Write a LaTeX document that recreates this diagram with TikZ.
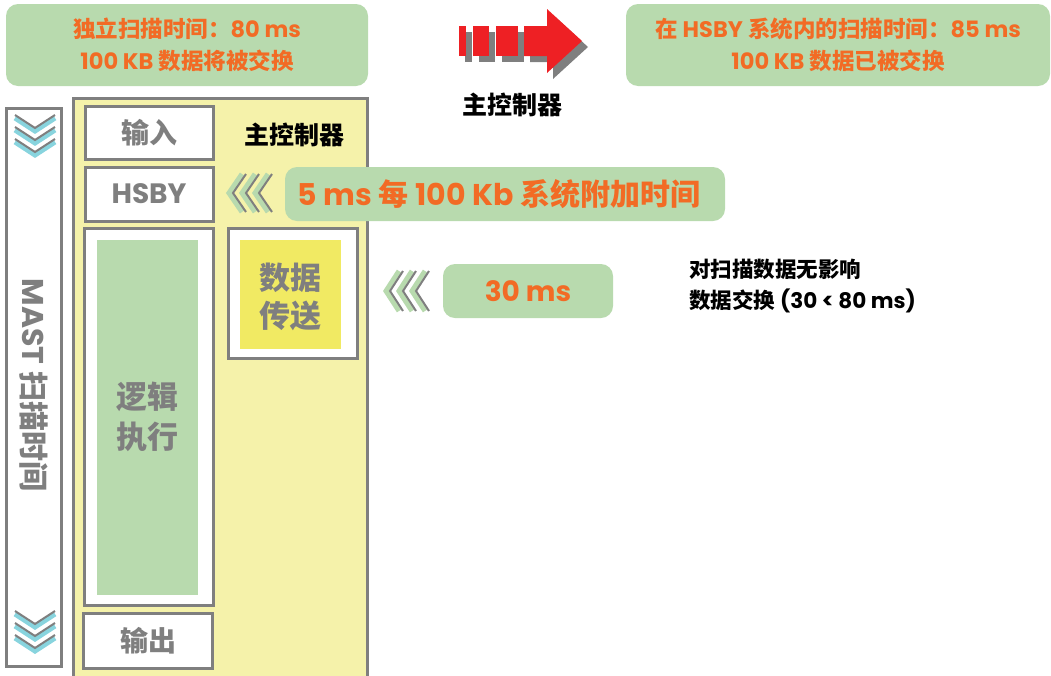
\documentclass[tikz,border=0pt]{standalone}
\usepackage{fontspec}
\setmainfont{Noto Sans CJK SC}
\newfontfamily\latn{Poppins}
\newcommand\LT[1]{{\latn #1}}
\definecolor{greenc}{HTML}{B8DAAE}
\definecolor{orangec}{HTML}{F26B25}
\definecolor{grayc}{HTML}{7F7F7F}
\definecolor{panelc}{HTML}{F5F2AA}
\definecolor{innery}{HTML}{F1EA63}
\definecolor{cyanc}{HTML}{88D4DE}
\definecolor{redc}{HTML}{EE2024}
\newcommand\fs[1]{\fontsize{#1}{#1}\selectfont\bfseries}
\begin{document}
\begin{tikzpicture}[x=1pt,y=-1pt,
  gbox/.style={fill=greenc, rounded corners=12pt, inner sep=0pt, text=orangec, align=center},
  wbox/.style={draw=grayc, line width=3pt, fill=white, inner sep=0pt},
  gtxt/.style={text=grayc, align=center, inner sep=0pt},
  btxt/.style={text=black, inner sep=0pt},
  chevg/.style={greenc, line width=5pt},
  chevs/.style={grayc, line width=2pt},
  chevc/.style={cyanc, line width=5pt}]
\useasboundingbox (0,0) rectangle (1051,675);
% top boxes
\node[gbox, minimum width=362, minimum height=82, font={\fontsize{22.5}{32}\selectfont\bfseries}] (t1) at (187,45)
  {独立扫描时间：\LT{80 ms}\\ \LT{100 KB} 数据将被交换};
\node[gbox, minimum width=424, minimum height=82, font={\fontsize{22.5}{32}\selectfont\bfseries}] (t2) at (838,45)
  {在 \LT{HSBY} 系统内的扫描时间：\LT{85 ms}\\ \LT{100 KB} 数据已被交换};
% red arrow
\begin{scope}[shift={(6,6)}]
  \fill[grayc] (459,26) rectangle (466,56);
  \fill[grayc] (473,26) rectangle (489,56);
  \fill[grayc] (496,26) rectangle (518,56);
  \fill[grayc] (524,26) -- (547,26) -- (547,9) -- (582,41) -- (547,73) -- (547,56) -- (524,56) -- cycle;
\end{scope}
\fill[redc] (459,26) rectangle (466,56);
\fill[redc] (473,26) rectangle (489,56);
\fill[redc] (496,26) rectangle (518,56);
\fill[redc] (524,26) -- (547,26) -- (547,9) -- (582,41) -- (547,73) -- (547,56) -- (524,56) -- cycle;
\node[btxt] (mc1) at (512,105) {\fs{25}主控制器};
% left scan box
\draw[grayc, line width=3pt, fill=white] (6,108) rectangle (61,666);
\node[gtxt, rotate=-90] (mast) at (34,385) {\fs{30}\LT{MAST} 扫描时间};
\foreach \y in {118,130,142} {
  \draw[chevc] (15,\y) -- (35,\y+13) -- (55,\y);
  \draw[chevs] (15,\y-3) -- (35,\y+10) -- (55,\y-3);
}
\foreach \y in {614,626,638} {
  \draw[chevc] (15,\y) -- (35,\y+13) -- (55,\y);
  \draw[chevs] (15,\y-3) -- (35,\y+10) -- (55,\y-3);
}
% main panel
\draw[grayc, line width=3pt, fill=panelc] (73,98) rectangle (367,690);
\node[wbox, minimum width=128, minimum height=53] (in) at (149,132.5) {};
\node[gtxt] at (in) {\fs{28}输入};
\node[btxt] (mc2) at (294,135) {\fs{25}主控制器};
\node[wbox, minimum width=128, minimum height=54] (hsby) at (149,194) {};
\node[gtxt] at (hsby) {\fs{28}\LT{HSBY}};
\node[wbox, minimum width=129, minimum height=377] (logic) at (148.5,416.5) {};
\fill[greenc] (97,240) rectangle (198,595);
\node[gtxt, font={\fontsize{31}{40}\selectfont\bfseries}] (logict) at (147,417) {逻辑\\执行};
\node[wbox, minimum width=129, minimum height=130] (data) at (292.5,293) {};
\fill[innery] (240,240) rectangle (341,349);
\node[gtxt, font={\fontsize{31}{38}\selectfont\bfseries}] (datat) at (290,297) {数据\\传送};
\node[wbox, minimum width=129, minimum height=55] (out) at (148,640.5) {};
\node[gtxt] at (out) {\fs{28}输出};
% HSBY overhead
\foreach \x in {229,242,255} {
  \draw[chevg] (\x+13,174) -- (\x,193) -- (\x+13,212);
  \draw[chevs] (\x+17,174) -- (\x+4,193) -- (\x+17,212);
}
\node[gbox, minimum width=440, minimum height=54] (ovh) at (505,194) {};
\node[text=orangec, inner sep=0pt] (ovht) at (499,194)
  {\fs{30}\LT{5 ms} 每 \LT{100 Kb} 系统附加时间};
% 30 ms
\foreach \x in {386,399,412} {
  \draw[chevg] (\x+13,271) -- (\x,291) -- (\x+13,311);
  \draw[chevs] (\x+17,271) -- (\x+4,291) -- (\x+17,311);
}
\node[gbox, minimum width=170, minimum height=54] (t30) at (528,291) {\fs{28}\LT{30 ms}};
\node[btxt, anchor=west, align=left, font={\fontsize{21.5}{31}\selectfont\bfseries}] (note) at (689,286)
  {对扫描数据无影响\\数据交换 \LT{(30 < 80 ms)}};
\end{tikzpicture}
\end{document}
